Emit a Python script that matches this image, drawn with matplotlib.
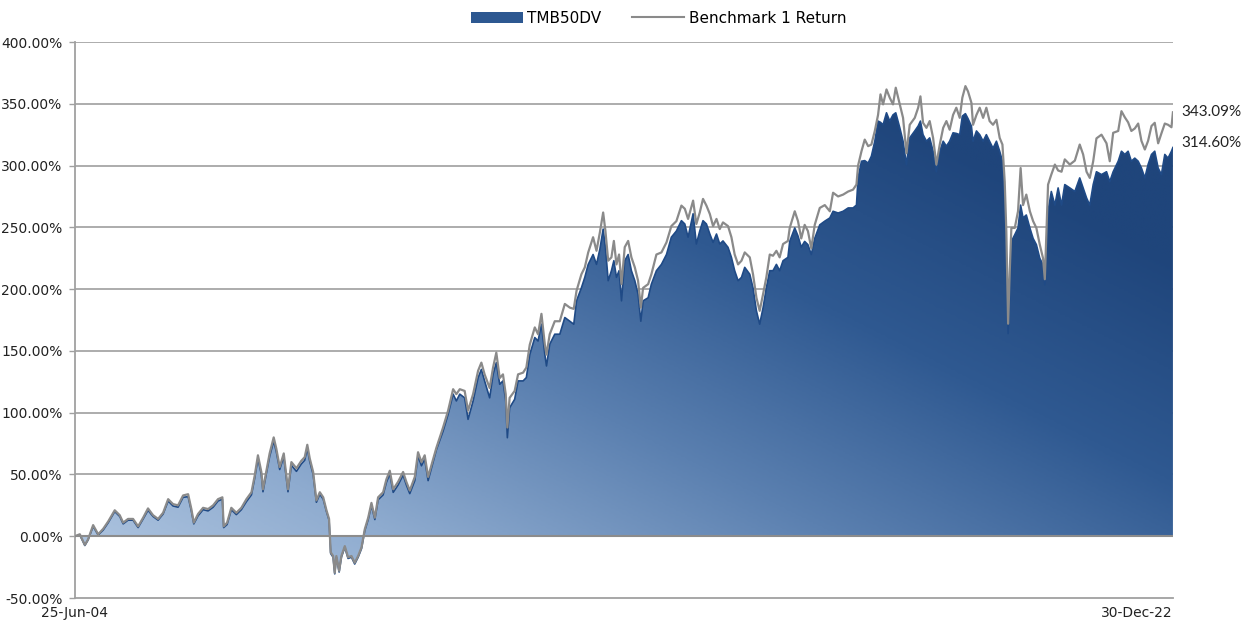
import numpy as np
import pandas as pd
import matplotlib
matplotlib.use("Agg")
import matplotlib.pyplot as plt
import matplotlib.dates as mdates
from matplotlib.patches import Polygon, Patch
from matplotlib.lines import Line2D
from matplotlib.colors import LinearSegmentedColormap

# values (cumulative return, %)
DATES = [
    "2004-06-25", "2004-07-25", "2004-08-25", "2004-09-14", "2004-10-15", "2004-11-15", "2004-12-16",
    "2005-01-16", "2005-02-25", "2005-03-28", "2005-04-18", "2005-05-18", "2005-06-18", "2005-07-19",
    "2005-08-19", "2005-09-18", "2005-10-19", "2005-11-19", "2005-12-20",
    "2006-01-20", "2006-02-19", "2006-03-22", "2006-04-22", "2006-05-23", "2006-06-12", "2006-06-27",
    "2006-07-23", "2006-08-23", "2006-09-23", "2006-10-24", "2006-11-23", "2006-12-20", "2006-12-28",
    "2007-01-18", "2007-02-13", "2007-03-16", "2007-04-16", "2007-05-17", "2007-06-17", "2007-07-07",
    "2007-07-27", "2007-08-17", "2007-08-27", "2007-09-17", "2007-10-07", "2007-11-01", "2007-11-17",
    "2007-12-08",
    "2008-01-02", "2008-01-28", "2008-02-18", "2008-03-20", "2008-04-19", "2008-05-10", "2008-05-26",
    "2008-06-10", "2008-07-01", "2008-07-21", "2008-08-11", "2008-09-01", "2008-09-21", "2008-10-07",
    "2008-10-17", "2008-11-01", "2008-11-11", "2008-11-21", "2008-12-08", "2008-12-22",
    "2009-01-12", "2009-02-01", "2009-02-22", "2009-03-14", "2009-04-04", "2009-04-25", "2009-05-15",
    "2009-06-05", "2009-06-25", "2009-07-16", "2009-08-05", "2009-09-05", "2009-09-25", "2009-10-16",
    "2009-11-06", "2009-12-06",
    "2010-01-06", "2010-01-26", "2010-02-16", "2010-03-19", "2010-04-08", "2010-04-29", "2010-05-19",
    "2010-06-09",
    "2010-07-30", "2010-09-09", "2010-10-10", "2010-11-10", "2010-11-30", "2010-12-21",
    "2011-01-20", "2011-02-10", "2011-03-13", "2011-04-13", "2011-05-03", "2011-05-23", "2011-06-23",
    "2011-07-14", "2011-08-03", "2011-08-24", "2011-09-13", "2011-09-30", "2011-10-10", "2011-10-24",
    "2011-11-24", "2011-12-15",
    "2012-01-15", "2012-02-04", "2012-02-25", "2012-03-27", "2012-04-16", "2012-05-07", "2012-05-28",
    "2012-06-07", "2012-06-27", "2012-07-28", "2012-08-28", "2012-09-28", "2012-10-29", "2012-11-22",
    "2012-12-09",
    "2013-01-08", "2013-01-29", "2013-02-19", "2013-03-21", "2013-04-11", "2013-05-02", "2013-05-22",
    "2013-06-05", "2013-06-22", "2013-07-12", "2013-07-27", "2013-08-12", "2013-08-28", "2013-09-12",
    "2013-10-02", "2013-10-23", "2013-11-12", "2013-12-03", "2013-12-23",
    "2014-01-09", "2014-01-23", "2014-02-23", "2014-03-15", "2014-04-15", "2014-05-16", "2014-06-16",
    "2014-07-16", "2014-08-16", "2014-09-16", "2014-10-07", "2014-10-27", "2014-11-27", "2014-12-17",
    "2015-01-07", "2015-01-27", "2015-02-17", "2015-03-10", "2015-03-30", "2015-04-20", "2015-05-10",
    "2015-05-30", "2015-06-30", "2015-07-21", "2015-08-10", "2015-08-31", "2015-09-21", "2015-10-11",
    "2015-11-11", "2015-12-01", "2015-12-22",
    "2016-01-11", "2016-02-01", "2016-02-21", "2016-03-13", "2016-04-02", "2016-04-23", "2016-05-13",
    "2016-06-03", "2016-07-03",
    "2016-07-14", "2016-08-14", "2016-09-03", "2016-09-23", "2016-10-14", "2016-11-03", "2016-11-24",
    "2016-12-15",
    "2017-01-15", "2017-02-15", "2017-03-18", "2017-04-07", "2017-05-08", "2017-06-08", "2017-07-09",
    "2017-08-08", "2017-08-29", "2017-09-08", "2017-09-29", "2017-10-19", "2017-11-09", "2017-11-29",
    "2017-12-20",
    "2018-01-09", "2018-01-24", "2018-02-09", "2018-03-02", "2018-03-22", "2018-04-11", "2018-04-28",
    "2018-05-23", "2018-06-12", "2018-07-03", "2018-07-23", "2018-08-23", "2018-09-13", "2018-09-27",
    "2018-10-13", "2018-11-03", "2018-11-23", "2018-12-14",
    "2019-01-03", "2019-01-24", "2019-02-14", "2019-03-06", "2019-03-26", "2019-04-16", "2019-05-06",
    "2019-05-27", "2019-06-12", "2019-07-01", "2019-07-17", "2019-08-07", "2019-08-17", "2019-09-07",
    "2019-09-27", "2019-10-18", "2019-11-07", "2019-11-27", "2019-12-18",
    "2020-01-08", "2020-01-28", "2020-02-14", "2020-02-28", "2020-03-09", "2020-03-20", "2020-03-30",
    "2020-04-09", "2020-04-30", "2020-05-20", "2020-06-05", "2020-06-20", "2020-07-10", "2020-08-01",
    "2020-08-21", "2020-09-10", "2020-10-01", "2020-10-21", "2020-11-01", "2020-11-11", "2020-11-21",
    "2020-12-11",
    "2021-01-02", "2021-01-22", "2021-02-12", "2021-03-04", "2021-04-04", "2021-05-05", "2021-06-04",
    "2021-06-25", "2021-07-16", "2021-08-05", "2021-08-26", "2021-09-15", "2021-10-16", "2021-11-16",
    "2021-12-06", "2021-12-27",
    "2022-01-27", "2022-02-16", "2022-03-09", "2022-03-29", "2022-04-18", "2022-05-09", "2022-05-30",
    "2022-06-19", "2022-07-10", "2022-07-30", "2022-08-20", "2022-09-09", "2022-09-30", "2022-10-20",
    "2022-11-10", "2022-11-30", "2022-12-21", "2022-12-30",
]

BENCH = [
    0, 1.6, -7, -2.5, 9, 1.6, 6,
    12, 21, 17, 11, 14, 14, 8, 15, 22.5, 17, 14, 19,
    30, 26, 25, 33, 34, 22, 11, 18, 23, 22, 25, 30, 31.5, 8,
    11, 23, 19, 23, 30, 35.6, 49, 65.5, 52, 38, 53, 67, 80, 71, 56,
    67, 38, 60, 55, 61, 64, 74, 63, 52, 29, 35.6, 31.5, 21, 14, -13, -16, -29.6, -16, -28, -16,
    -8, -17, -16, -21.5, -16, -9, 5.7, 15, 27, 15, 31.5, 35.6, 46, 53, 38, 44,
    52, 44, 37, 48, 68, 60, 65.5, 48,
    71.6, 88, 101.6, 119, 115, 119,
    117.6, 101.6, 115, 134, 140.5, 131, 120, 136.5, 148.6, 128, 131, 115, 88, 112, 117.6, 131,
    132.4, 136.5, 155, 169, 163.5, 180, 155, 147, 163.5, 174, 174, 188, 185, 184, 198.6,
    212, 217.6, 229.7, 242, 231, 246, 262, 247, 223, 225.7, 239, 220, 228, 204, 234, 239, 225.7, 217.6, 206.8,
    185, 201, 204, 212, 228, 229.7, 237.8, 251, 255, 267.6, 265, 256.8, 271.6, 252.7,
    262, 273, 267.6, 260.8, 251, 256.8, 248.6, 254, 251, 242, 228, 220, 223, 229.7, 225.7, 212, 193,
    182.4, 196, 209.5, 228, 227, 231, 225.7, 236.5, 239,
    249.5, 263, 255, 241, 252, 247, 233, 252,
    265.7, 268, 263, 278, 275, 276.5, 279, 280.5, 284.6, 300, 311.6, 321, 315.7, 317, 328,
    341, 357.6, 349.5, 361.6, 354.9, 349.5, 363, 349.5, 338.6, 310, 333, 338.6, 346.8, 356, 334.6, 330.5, 336, 322.4,
    300.8, 317, 330.5, 336, 329, 341, 346.8, 338.6, 354.9, 364.3, 360, 350.8, 333, 341, 346.8, 338.6, 346.8, 336, 333,
    337, 322.4, 317, 287, 246.8, 172, 214, 249.5, 249.5, 263, 298, 268, 276.5, 263, 255, 249.5, 236, 225, 208,
    246.8, 284.6, 292.7,
    300.8, 296, 295, 305, 300.8, 304, 317, 309, 295, 290, 303.5, 322, 325, 318, 303.5, 326.5,
    328, 344, 339, 335, 328, 330, 334, 320, 313, 320, 332, 334.6, 318, 326, 334, 333, 331, 343.09,
]

FUND = [
    0, 1.0, -7.5, -3, 8, 1, 5,
    11, 20, 16, 10, 13, 13, 7, 14, 21, 16, 13, 18,
    28.5, 24.5, 23.5, 31.5, 32, 20.5, 10, 16.5, 21.5, 20.5, 23.5, 28.5, 30, 7,
    9.5, 21.5, 17.5, 21.5, 28, 33.5, 47, 63, 50, 36, 51, 64.5, 77, 68.5, 54,
    64.5, 36, 57.5, 52.5, 58.5, 61.5, 71, 60.5, 50, 27.5, 34, 30, 20, 13, -14, -17, -30.5, -17, -29, -17,
    -9, -18, -17, -22.5, -17, -10, 4.5, 13.5, 25, 13.5, 29.5, 33.5, 43.5, 50.5, 35.5, 41.5,
    49.5, 41.5, 34.5, 45, 65, 57, 62.5, 45,
    70, 85, 98.6, 115, 109.5, 115,
    112, 94.6, 109.5, 128.4, 135, 125.7, 112, 131, 140.5, 123, 125.7, 109.5, 79.7, 104, 110.8, 125.7,
    125.7, 128.4, 147, 160.8, 158, 171.6, 147, 137.8, 155.4, 163.5, 163.5, 177, 174, 171.6, 190.5,
    201, 209.5, 220, 228, 220, 232.4, 248.6, 233.8, 206.8, 214.9, 223, 209.5, 214.9, 190.5, 223, 228, 214.9, 206.8, 196,
    174, 190.5, 193, 204, 214.9, 220, 228, 242, 247, 255.4, 252.7, 242, 261, 236.5,
    247, 255.4, 252.7, 244.6, 237.8, 244.6, 236.5, 239, 233.8, 225.7, 214.9, 206.8, 209.5, 217.6, 212, 201, 182.4,
    171.6, 185, 201, 214.9, 214.9, 220, 214.9, 223, 225.7,
    238.6, 249.5, 243, 234, 238.6, 236, 228, 241,
    252, 255, 257.6, 263, 261.6, 263, 265.7, 265.7, 268, 290, 303.5, 304, 302, 307.6, 319.7,
    336, 335, 333, 342.7, 336, 341, 342.7, 330.5, 319.7, 300.8, 322.4, 328, 332, 336, 325, 319.7, 322.4, 311.6,
    295, 311.6, 319.7, 315.7, 319.7, 326.5, 326, 325, 340, 342, 338, 331.9, 319.7, 328, 325, 319.7, 325, 319.7, 314,
    319.7, 311.6, 303.5, 271, 225, 164, 200.5, 238.6, 244, 249.5, 268, 257.6, 260, 249.5, 241, 236, 225, 219.7, 203.5,
    236, 263, 279,
    268, 281.9, 268, 284.6, 281.9, 279, 290, 281.9, 273.8, 268, 284.6, 295, 292.7, 295, 287, 295,
    303.5, 311.6, 309, 311.6, 303.5, 306, 303.5, 298, 290, 300.8, 309, 311.6, 298, 292.7, 309, 306, 311.6, 314.60,
]

Y_TICKS = [-50, 0, 50, 100, 150, 200, 250, 300, 350, 400]
X_LABELS = ["25-Jun-04", "30-Dec-22"]
SERIES_NAMES = ["TMB50DV", "Benchmark 1 Return"]

assert len(DATES) == len(BENCH) == len(FUND)

x = mdates.date2num(pd.to_datetime(DATES))
fund = np.array(FUND, dtype=float)
bench = np.array(BENCH, dtype=float)

fig = plt.figure(figsize=(12.47, 6.25), dpi=100)
ax = fig.add_axes([0.0601, 0.0432, 0.8805, 0.8896])
ax.set_xlim(x[0], x[-1])
ax.set_ylim(-50, 400)

# horizontal gridlines sit behind the area
for yv in Y_TICKS[1:]:
    if yv != 0:
        ax.axhline(yv, color="#a6a6a6", lw=1.3, zorder=0)

# diagonal gradient fill (light blue bottom-left -> navy top-right), clipped to the area
cmap = LinearSegmentedColormap.from_list(
    "fill", ["#b6cbe4", "#8eabcf", "#5b80b0", "#2f5991", "#1f457b"])
gx, gy = np.meshgrid(np.linspace(0, 1, 500), np.linspace(0, 1, 300))
grad = np.clip(0.62 * gx + 0.62 * gy, 0, 1)
im = ax.imshow(grad, cmap=cmap, vmin=0, vmax=1, origin="lower", aspect="auto",
               extent=[x[0], x[-1], -50, 400], zorder=1, interpolation="bilinear")
verts = np.column_stack([np.r_[x, x[::-1]], np.r_[fund, np.zeros(len(x))]])
area = Polygon(verts, closed=True, facecolor="none", edgecolor="none",
               transform=ax.transData)
ax.add_patch(area)
im.set_clip_path(area)

ax.plot(x, fund, color="#1f4a86", lw=1.2, zorder=2)
ax.plot(x, bench, color="#8a8a8a", lw=1.6, zorder=3)

# zero line acts as the category axis, drawn on top
ax.axhline(0, color="#8c8c8c", lw=1.5, zorder=4)

for side in ["top", "right"]:
    ax.spines[side].set_visible(False)
for side in ["left", "bottom"]:
    ax.spines[side].set_color("#a0a0a0")
    ax.spines[side].set_linewidth(1.3)

ax.set_yticks(Y_TICKS)
ax.set_yticklabels([f"{v:.2f}%" for v in Y_TICKS], fontsize=10, color="#222222")
ax.tick_params(axis="y", length=4, width=1, color="#a0a0a0", pad=5)

ax.set_xticks([x[0], x[-1]])
ax.set_xticklabels(X_LABELS, fontsize=10, color="#222222")
ax.tick_params(axis="x", length=0, pad=6)
ax.get_xticklabels()[-1].set_horizontalalignment("right")

# end-of-series value labels
ax.annotate(f"{bench[-1]:.2f}%", xy=(x[-1], bench[-1]), xytext=(6, 0),
            textcoords="offset points", ha="left", va="center", fontsize=11,
            family="Lato", color="#222222", annotation_clip=False)
ax.annotate(f"{fund[-1]:.2f}%", xy=(x[-1], fund[-1]), xytext=(6, 3),
            textcoords="offset points", ha="left", va="center", fontsize=11,
            family="Lato", color="#222222", annotation_clip=False)

handles = [Patch(facecolor="#2d5891", edgecolor="none"),
           Line2D([0], [0], color="#8a8a8a", lw=1.5)]
fig.legend(handles, SERIES_NAMES, loc="center", bbox_to_anchor=(0.528, 0.971),
           ncol=2, frameon=False, fontsize=11, handlelength=3.4, handleheight=0.7,
           columnspacing=2.0, handletextpad=0.3)

fig.savefig("out.png", dpi=100)
